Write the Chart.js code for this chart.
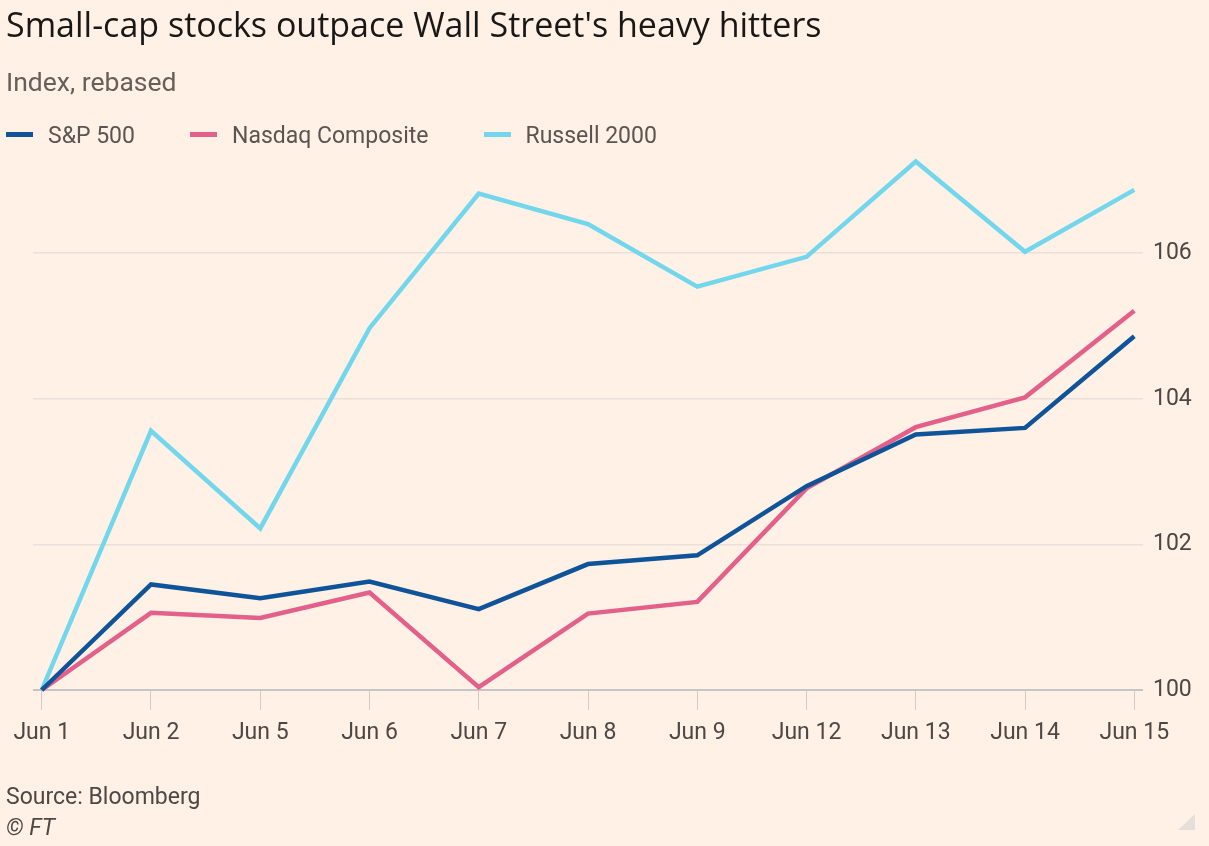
<!DOCTYPE html>
<html>
<head>
<meta charset="utf-8">
<script src="https://cdn.jsdelivr.net/npm/chart.js@4.4.1/dist/chart.umd.min.js"></script>
<style>
  html, body { margin: 0; padding: 0; background: #FFF1E5; }
  body { width: 1209px; height: 846px; position: relative; overflow: hidden; font-family: Roboto, sans-serif; }
  #wrap { position: absolute; left: 0; top: 0; width: 1209px; height: 846px; }
  .txt { position: absolute; white-space: nowrap; line-height: 1; }
  #title { left: 6px; top: 7px; font-family: 'Open Sans', sans-serif; font-size: 34px; color: #1a1817; }
  #subtitle { left: 6px; top: 69px; font-size: 26.5px; color: #66605C; }
  #legend { left: 6px; top: 124px; font-size: 23px; color: #5a5552; display: flex; align-items: center; }
  #legend .item { display: flex; align-items: center; margin-right: 55px; }
  #legend .mark { width: 27px; height: 5px; margin-right: 15px; position: relative; top: -1px; }
  #source { left: 6px; top: 785px; font-size: 23px; color: #4d4845; }
  #copy { left: 6px; top: 816px; font-size: 23px; color: #4d4845; font-style: italic; }
  #grip { position: absolute; left: 1178px; top: 814px; width: 17px; height: 16px; background: #e6dfd9; clip-path: polygon(100% 0, 100% 100%, 0 100%); }
</style>
</head>
<body>
<div id="wrap"><canvas id="myChart" width="1209" height="846"></canvas></div>
<div class="txt" id="title">Small-cap stocks outpace Wall Street's heavy hitters</div>
<div class="txt" id="subtitle">Index, rebased</div>
<div class="txt" id="legend"></div>
<div class="txt" id="source">Source: Bloomberg</div>
<div class="txt" id="copy">© FT</div>
<div id="grip"></div>
<script>
// dates on the x axis
const dates = ['Jun 1', 'Jun 2', 'Jun 5', 'Jun 6', 'Jun 7', 'Jun 8', 'Jun 9', 'Jun 12', 'Jun 13', 'Jun 14', 'Jun 15'];

// index values, rebased to 100 on Jun 1
const sp500 = [100, 101.45, 101.26, 101.49, 101.11, 101.73, 101.85, 102.80, 103.51, 103.60, 104.86];
const nasdaq = [100, 101.06, 100.99, 101.34, 100.04, 101.05, 101.21, 102.77, 103.61, 104.02, 105.21];
const russell = [100, 103.56, 102.22, 104.97, 106.82, 106.40, 105.54, 105.95, 107.26, 106.02, 106.87];

const yTicks = [100, 102, 104, 106];

const seriesNames = ['S&P 500', 'Nasdaq Composite', 'Russell 2000'];
const seriesColors = ['#0F5499', '#E3608A', '#72D6EC'];

// legend
const legend = document.getElementById('legend');
seriesNames.forEach(function (name, i) {
    const item = document.createElement('div');
    item.className = 'item';
    item.innerHTML = '<span class="mark" style="background:' + seriesColors[i] + '"></span><span>' + name.replace('&', '&amp;') + '</span>';
    legend.appendChild(item);
});

const toPoints = (arr) => arr.map((v, i) => ({ x: i, y: v }));

const ctx = document.getElementById('myChart').getContext('2d');
const myChart = new Chart(ctx, {
    type: 'line',
    data: {
        datasets: [sp500, nasdaq, russell].map(function (arr, i) {
            return {
                label: seriesNames[i],
                data: toPoints(arr),
                borderColor: seriesColors[i],
                backgroundColor: seriesColors[i],
                borderWidth: 4.5,
                pointRadius: 0,
                tension: 0,
                borderJoinStyle: 'miter',
                clip: false
            };
        })
    },
    options: {
        responsive: false,
        animation: false,
        layout: { padding: { top: 144, left: 33, right: 0, bottom: 0 } },
        plugins: {
            legend: { display: false },
            tooltip: { enabled: false }
        },
        scales: {
            x: {
                type: 'linear',
                min: -0.08,
                max: 10.08,
                afterBuildTicks: function (scale) {
                    scale.ticks = dates.map((d, i) => ({ value: i }));
                },
                afterFit: function (scale) { scale.height = 156; },
                border: { display: false },
                grid: {
                    drawOnChartArea: false,
                    drawTicks: true,
                    tickLength: 20,
                    color: '#d2cbc5'
                },
                ticks: {
                    autoSkip: false,
                    maxRotation: 0,
                    padding: 9,
                    color: '#4d4845',
                    font: { family: 'Roboto', size: 23 },
                    callback: function (value) { return dates[value]; }
                }
            },
            y: {
                position: 'right',
                min: 100,
                max: 107.5,
                afterBuildTicks: function (scale) {
                    scale.ticks = yTicks.map((v) => ({ value: v }));
                },
                afterFit: function (scale) { scale.width = 66; },
                border: { display: false },
                grid: {
                    drawTicks: false,
                    color: function (c) { return c.tick && c.tick.value === 100 ? '#c7c4c6' : '#ebe0d8'; },
                    lineWidth: function (c) { return c.tick && c.tick.value === 100 ? 2 : 1.5; }
                },
                ticks: {
                    padding: 10,
                    color: '#4d4845',
                    font: { family: 'Roboto', size: 23 }
                }
            }
        }
    }
});
</script>
</body>
</html>
